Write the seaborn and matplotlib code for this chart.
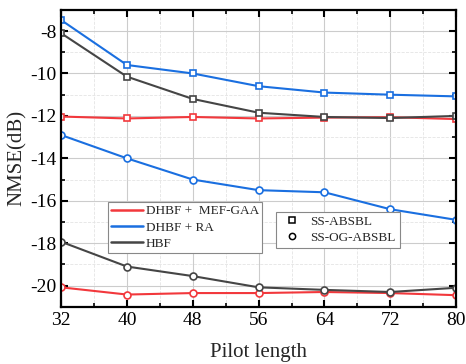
import numpy as np
import pandas as pd
import matplotlib
matplotlib.use("Agg")
import matplotlib.pyplot as plt
import seaborn as sns
from matplotlib.lines import Line2D
from matplotlib.ticker import MultipleLocator

pilot = [32, 40, 48, 56, 64, 72, 80]

# SS-ABSBL (squares)
mef_sq = [-12.03, -12.12, -12.05, -12.12, -12.08, -12.06, -12.15]
ra_sq = [-7.48, -9.6, -10.0, -10.6, -10.9, -11.0, -11.08]
hbf_sq = [-8.1, -10.15, -11.2, -11.85, -12.05, -12.1, -12.0]

# SS-OG-ABSBL (circles)
mef_ci = [-20.08, -20.42, -20.35, -20.35, -20.3, -20.35, -20.45]
ra_ci = [-12.9, -14.0, -15.0, -15.5, -15.6, -16.4, -16.9]
hbf_ci = [-17.93, -19.1, -19.55, -20.08, -20.2, -20.3, -20.1]

c_red = "#f2383c"
c_blue = "#1a6fe0"
c_gray = "#454545"

sns.set_theme(style="ticks")
plt.rcParams["font.family"] = ["Liberation Serif", "DejaVu Serif"]
plt.rcParams["axes.unicode_minus"] = False

fig = plt.figure(figsize=(4.66, 3.64), dpi=100)
ax = fig.add_axes([0.131, 0.157, 0.848, 0.816])

series = [
    (mef_sq, c_red, "s"), (ra_sq, c_blue, "s"), (hbf_sq, c_gray, "s"),
    (mef_ci, c_red, "o"), (ra_ci, c_blue, "o"), (hbf_ci, c_gray, "o"),
]
for vals, col, mk in series:
    df = pd.DataFrame({"pilot": pilot, "nmse": vals})
    sns.lineplot(data=df, x="pilot", y="nmse", ax=ax, color=col, marker=mk,
                 markersize=5, markerfacecolor="white", markeredgecolor=col,
                 markeredgewidth=1.2, linewidth=1.5, legend=False)

ax.set_xlim(32, 80)
ax.set_ylim(-21, -7)
ax.xaxis.set_major_locator(MultipleLocator(8))
ax.xaxis.set_minor_locator(MultipleLocator(4))
ax.yaxis.set_major_locator(MultipleLocator(2))
ax.yaxis.set_minor_locator(MultipleLocator(1))
ax.grid(True, which="major", color="#cccccc", linewidth=0.8)
ax.grid(True, which="minor", color="#e4e4e4", linewidth=0.6, linestyle="--")
ax.set_axisbelow(True)
ax.tick_params(which="both", direction="in", top=True, right=True, labelsize=14, colors="black")
ax.tick_params(which="major", length=5, width=1.5)
ax.tick_params(which="minor", length=3, width=1.2)
for s in ax.spines.values():
    s.set_linewidth(1.6)
    s.set_color("black")
ax.set_xlabel("Pilot length", fontsize=15, labelpad=10)
ax.set_ylabel("NMSE(dB)", fontsize=15, labelpad=2)

h1 = [Line2D([], [], color=c_red, lw=1.8), Line2D([], [], color=c_blue, lw=1.8),
      Line2D([], [], color=c_gray, lw=1.8)]
leg1 = ax.legend(h1, ["DHBF +  MEF-GAA", "DHBF + RA", "HBF"], loc="upper left",
                 bbox_to_anchor=(0.119, 0.3535), borderaxespad=0, fontsize=9.5,
                 frameon=True, fancybox=False, edgecolor="#888888", framealpha=1,
                 handlelength=2.4, borderpad=0.25, labelspacing=0.3, handletextpad=0.2)
leg1.get_frame().set_linewidth(0.8)
ax.add_artist(leg1)

h2 = [Line2D([], [], color="black", marker="s", ls="none", markersize=4.5, markerfacecolor="white", mew=1.1),
      Line2D([], [], color="black", marker="o", ls="none", markersize=4.5, markerfacecolor="white", mew=1.1)]
leg2 = ax.legend(h2, ["SS-ABSBL", "SS-OG-ABSBL"], loc="upper left",
                 bbox_to_anchor=(0.544, 0.32), borderaxespad=0, fontsize=9.5,
                 frameon=True, fancybox=False, edgecolor="#888888", framealpha=1,
                 handlelength=1.8, borderpad=0.3, labelspacing=0.28, handletextpad=0.5)
leg2.get_frame().set_linewidth(0.8)

fig.savefig("out.png", dpi=100)
